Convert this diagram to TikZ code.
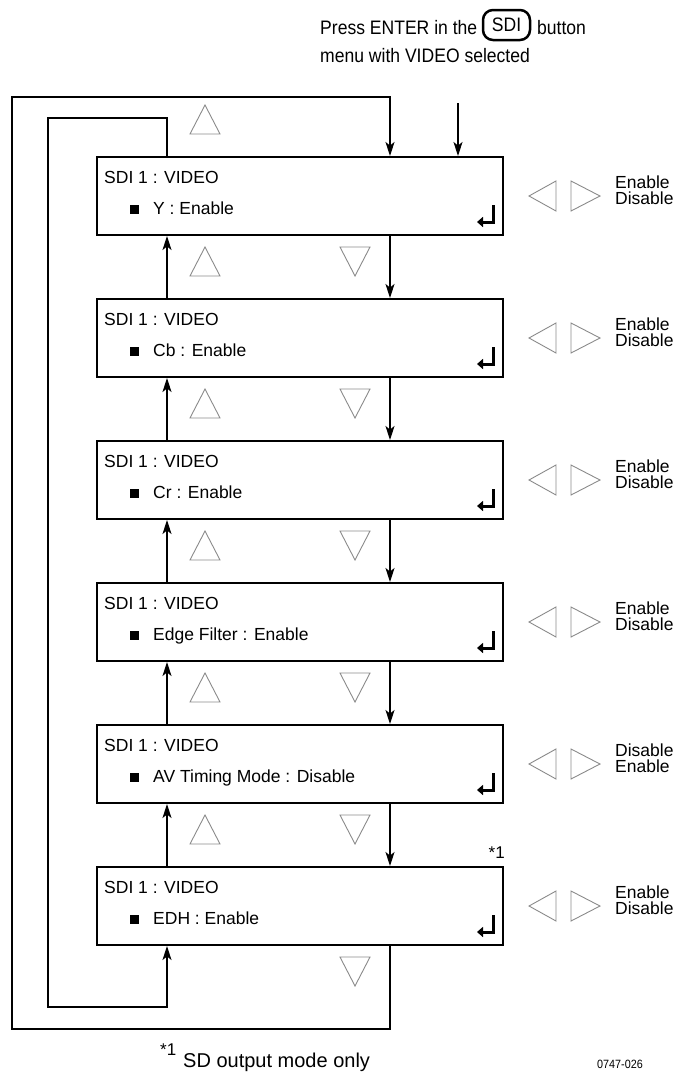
\documentclass[tikz,border=0pt]{standalone}
\usepackage{fontspec}
\setmainfont{Liberation Sans}
\newfontfamily\narrowsans[FakeStretch=0.9]{Liberation Sans}
\usepackage{tikz}
\usetikzlibrary{positioning, arrows.meta}
\definecolor{keygray}{HTML}{8A8A8A}
\definecolor{inkblack}{HTML}{000000}

\begin{document}
\begin{tikzpicture}[x=1pt, y=-1pt, color=inkblack,
  menubox/.style={draw, line width=2pt, minimum width=406pt, minimum height=78pt, inner sep=0pt},
  boxtext/.style={font=\fontsize{17.5}{20}\selectfont, inner sep=0pt, anchor=base west},
  toptext/.style={font=\narrowsans\fontsize{19.5}{24}\selectfont, inner sep=0pt, anchor=base west},
  sdikey/.style={draw, line width=2.5pt, rounded corners=10pt, minimum width=47pt, minimum height=30pt, inner sep=0pt, font=\narrowsans\fontsize{19.5}{24}\selectfont},
  bullet/.style={fill, minimum size=9pt, inner sep=0pt},
  flow/.style={line width=1.2pt, -{Stealth[length=14pt,width=9pt,inset=3.5pt]}},
  keytri/.style={draw=keygray, line width=0.9pt},
  retmark/.style={line width=3pt, -{Triangle[length=6pt,width=10pt]}}]
% pixel grid of the 677 x 1076 sheet, y running down
\useasboundingbox (0,0) rectangle (677,1076);
\node[toptext] (press) at (320,34) {Press ENTER in the};
\node[sdikey] (sdi) at (506.5,25) {SDI};
\node[toptext] (btn) at (537,34) {button};
\node[toptext] (menu) at (320,62) {menu with VIDEO selected};
\foreach \i/\lbl/\oa/\ob in {1/{Y : Enable}/Enable/Disable, 2/{Cb : Enable}/Enable/Disable,
    3/{Cr : Enable}/Enable/Disable, 4/{Edge Filter : Enable}/Enable/Disable,
    5/{AV Timing Mode : Disable}/Disable/Enable, 6/{EDH : Enable}/Enable/Disable} {
  \pgfmathsetmacro\cy{196+142*(\i-1)}
  \node[menubox] (b\i) at (300,\cy) {};
  \node[boxtext] (h\i) at ([shift={(8,27)}]b\i.north west) {SDI 1 : VIDEO};
  \node[bullet] (sq\i) at ([shift={(38.5,53.5)}]b\i.north west) {};
  \node[boxtext] (it\i) at ([shift={(57,58)}]b\i.north west) {\lbl};
  \draw[retmark] ([shift={(-11,-31)}]b\i.south east) |- ([shift={(-27,-14)}]b\i.south east);
  % up / down / left / right keys
  \draw[keytri] (205,\cy-91) -- (220,\cy-62) -- (190,\cy-62) -- cycle;
  \draw[keytri] (340,\cy+51) -- (370,\cy+51) -- (355,\cy+80) -- cycle;
  \draw[keytri] (529,\cy) -- (556,\cy-15) -- (556,\cy+15) -- cycle;
  \draw[keytri] (571,\cy-15) -- (600,\cy) -- (571,\cy+15) -- cycle;
  \node[boxtext] (oa\i) at (615,\cy-8) {\oa};
  \node[boxtext] (ob\i) at (615,\cy+8) {\ob};
}
\coordinate (upx) at (167,0);
\coordinate (dnx) at (390,0);
\foreach \i/\j in {1/2, 2/3, 3/4, 4/5, 5/6} {
  \draw[flow] (b\i.south -| dnx) -- (b\j.north -| dnx);
  \draw[flow] (b\j.north -| upx) -- (b\i.south -| upx);
}
% wrap-around loops
\coordinate (outerbl) at (12,1029);
\coordinate (outertl) at (12,97);
\draw[flow] (b6.south -| dnx) |- (outerbl) -- (outertl) -| (b1.north -| dnx);
\coordinate (innertl) at (48,118);
\coordinate (innerbl) at (48,1007);
\draw[flow] (b1.north -| upx) |- (innertl) -- (innerbl) -| (b6.south -| upx);
\coordinate (entry) at (458,103);
\draw[flow] (entry) -- (b1.north -| entry);
\node[boxtext, anchor=base east, font=\fontsize{17}{20}\selectfont] (star) at (505,858) {*1};
\node[boxtext, font=\fontsize{17}{20}\selectfont] (fnmark) at (160,1055) {*1};
\node[boxtext, font=\fontsize{20}{24}\selectfont] (fnote) at (183,1067) {SD output mode only};
\node[boxtext, font=\narrowsans\fontsize{12}{14}\selectfont] (fig) at (597,1068) {0747-026};
\end{tikzpicture}
\end{document}
